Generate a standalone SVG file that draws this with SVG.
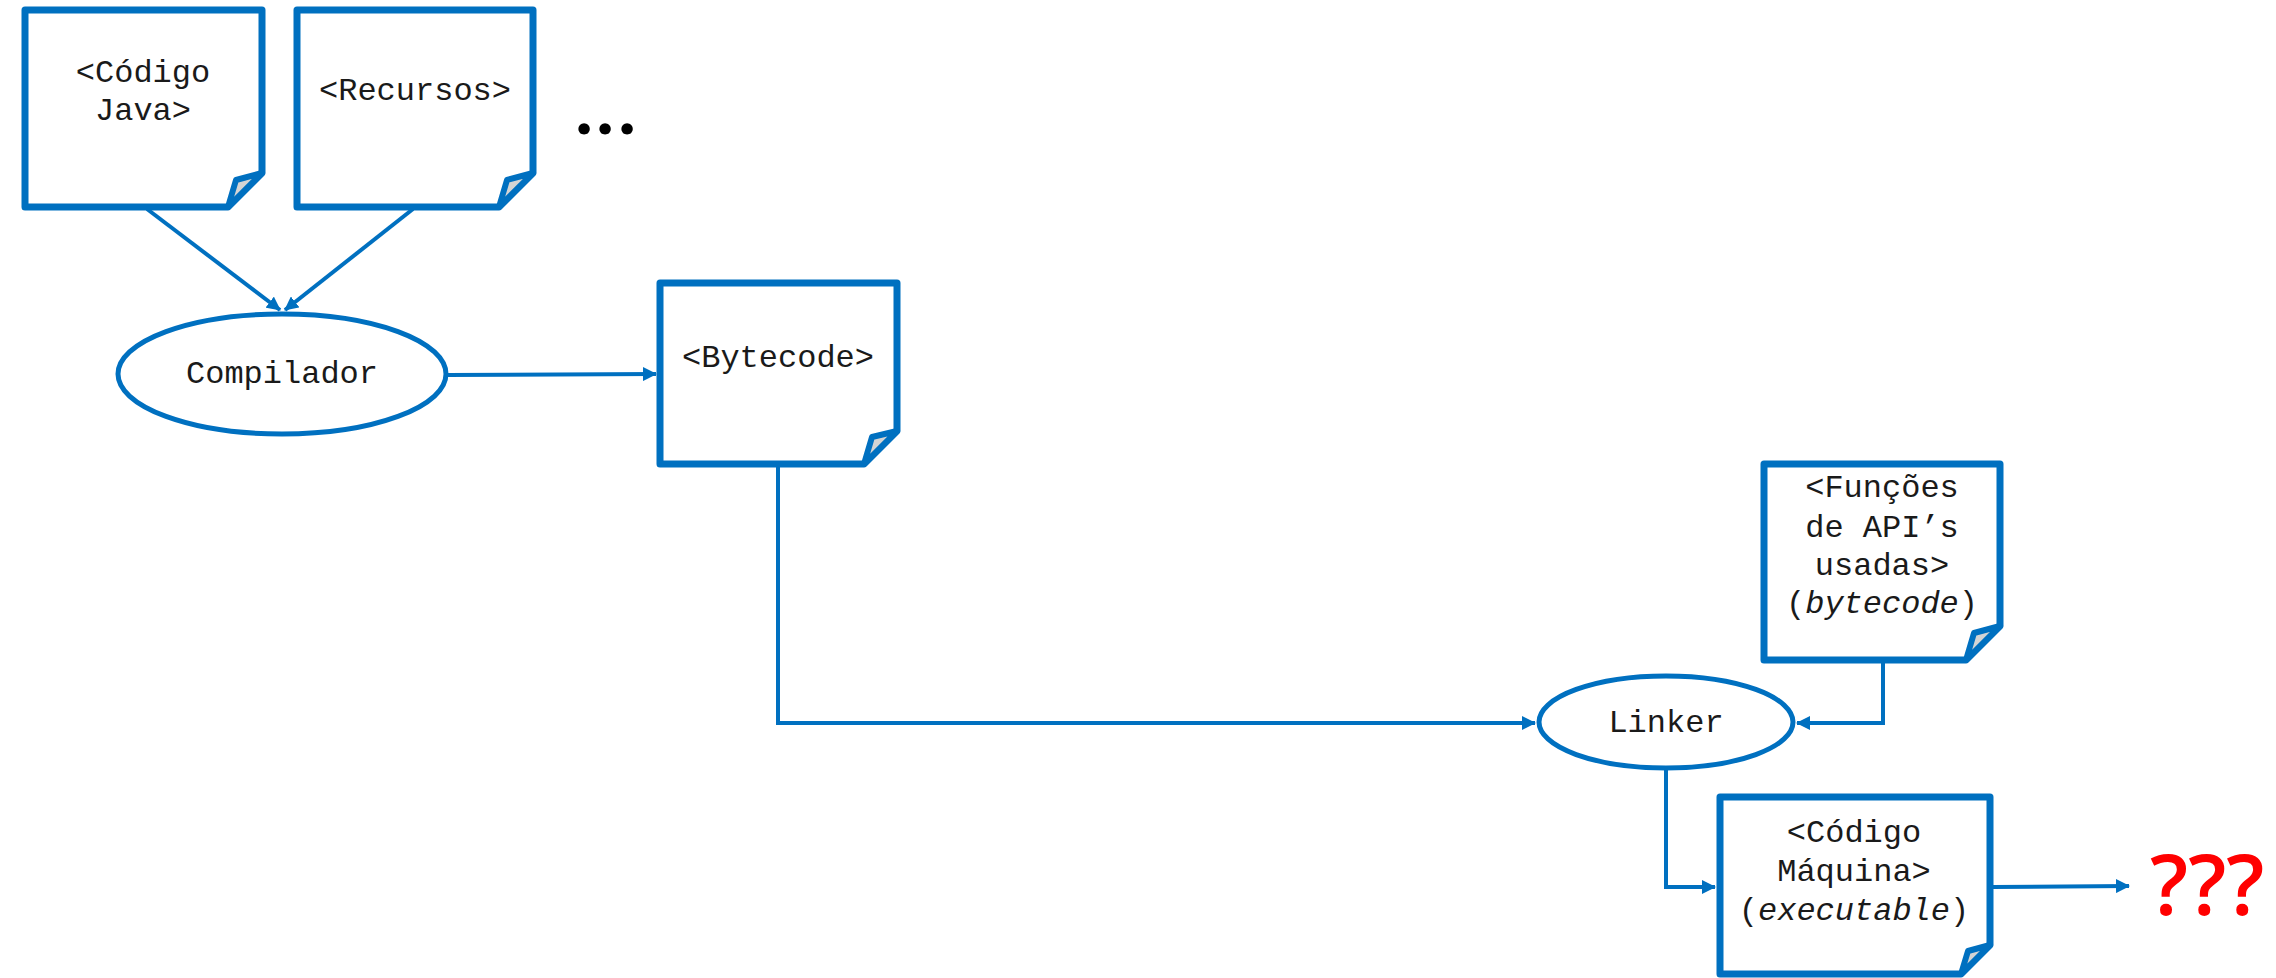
<svg xmlns="http://www.w3.org/2000/svg" width="2276" height="978" viewBox="0 0 2276 978">
<style>
.doc{fill:#fff;stroke:#0070C0;stroke-width:7;stroke-linejoin:round}
.flap{fill:#d4d4d4;stroke:#0070C0;stroke-width:6;stroke-linejoin:round}
.proc{fill:#fff;stroke:#0070C0;stroke-width:5}
.t{font-family:"Liberation Mono","Courier New",monospace;font-size:32px;fill:#1a1a1a;text-anchor:middle}
.conn{fill:none;stroke:#0070C0;stroke-width:4}
</style>
<defs>
<marker id="ah" markerUnits="userSpaceOnUse" viewBox="0 0 14 14" refX="13" refY="7" markerWidth="14" markerHeight="14" orient="auto">
<path d="M0,0 L14,7 L0,14 z" fill="#0070C0"/>
</marker>
</defs>
<rect width="2276" height="978" fill="#fff"/>
<g id="connectors">
<path class="conn" d="M147,209 L280,310" marker-end="url(#ah)"/>
<path class="conn" d="M413,209 L285,310" marker-end="url(#ah)"/>
<path class="conn" d="M448,375 L656,374" marker-end="url(#ah)"/>
<path class="conn" d="M778,466 V723 H1535" marker-end="url(#ah)"/>
<path class="conn" d="M1883,662 V723 H1797" marker-end="url(#ah)"/>
<path class="conn" d="M1666,769 V887 H1715" marker-end="url(#ah)"/>
<path class="conn" d="M1993,887 L2129,886" marker-end="url(#ah)"/>
</g>
<g id="codigo-java">
<path class="doc" d="M25,10 H262 V173 L228,207 H25 Z"/>
<path class="flap" d="M262,173 L236,180 L228,207 Z"/>
<text class="t" x="143" y="82">&lt;Código</text>
<text class="t" x="143" y="120">Java&gt;</text>
</g>
<g id="recursos">
<path class="doc" d="M297,10 H533 V173 L499,207 H297 Z"/>
<path class="flap" d="M533,173 L507,180 L499,207 Z"/>
<text class="t" x="415" y="100">&lt;Recursos&gt;</text>
</g>
<g id="ellipsis">
<text y="134" font-family="Lato, Noto Sans, sans-serif" font-weight="900" font-size="70" text-anchor="middle" fill="#000"><tspan x="584">.</tspan><tspan x="605">.</tspan><tspan x="627">.</tspan></text>
</g>
<g id="compilador">
<ellipse class="proc" cx="282" cy="374" rx="164" ry="60"/>
<text class="t" x="282" y="383">Compilador</text>
</g>
<g id="bytecode">
<path class="doc" d="M660,283 H897 V431 L864,464 H660 Z"/>
<path class="flap" d="M897,431 L872,437 L864,464 Z"/>
<text class="t" x="778" y="367">&lt;Bytecode&gt;</text>
</g>
<g id="funcoes">
<path class="doc" d="M1764,464 H2000 V626 L1966,660 H1764 Z"/>
<path class="flap" d="M2000,626 L1974,633 L1966,660 Z"/>
<text class="t" x="1882" y="497">&lt;Funções</text>
<text class="t" x="1882" y="537">de API’s</text>
<text class="t" x="1882" y="575">usadas&gt;</text>
<text class="t" x="1882" y="613">(<tspan font-style="italic">bytecode</tspan>)</text>
</g>
<g id="linker">
<ellipse class="proc" cx="1666" cy="722" rx="127" ry="46"/>
<text class="t" x="1666" y="732">Linker</text>
</g>
<g id="codigo-maquina">
<path class="doc" d="M1720,797 H1990 V945 L1961,974 H1720 Z"/>
<path class="flap" d="M1990,945 L1968,951 L1961,974 Z"/>
<text class="t" x="1854" y="842">&lt;Código</text>
<text class="t" x="1854" y="881">Máquina&gt;</text>
<text class="t" x="1854" y="920">(<tspan font-style="italic">executable</tspan>)</text>
</g>
<g id="question">
<text x="2150" y="915" font-family="Open Sans, Liberation Sans, sans-serif" font-weight="600" font-size="84" fill="#FF0000">???</text>
</g>
</svg>
